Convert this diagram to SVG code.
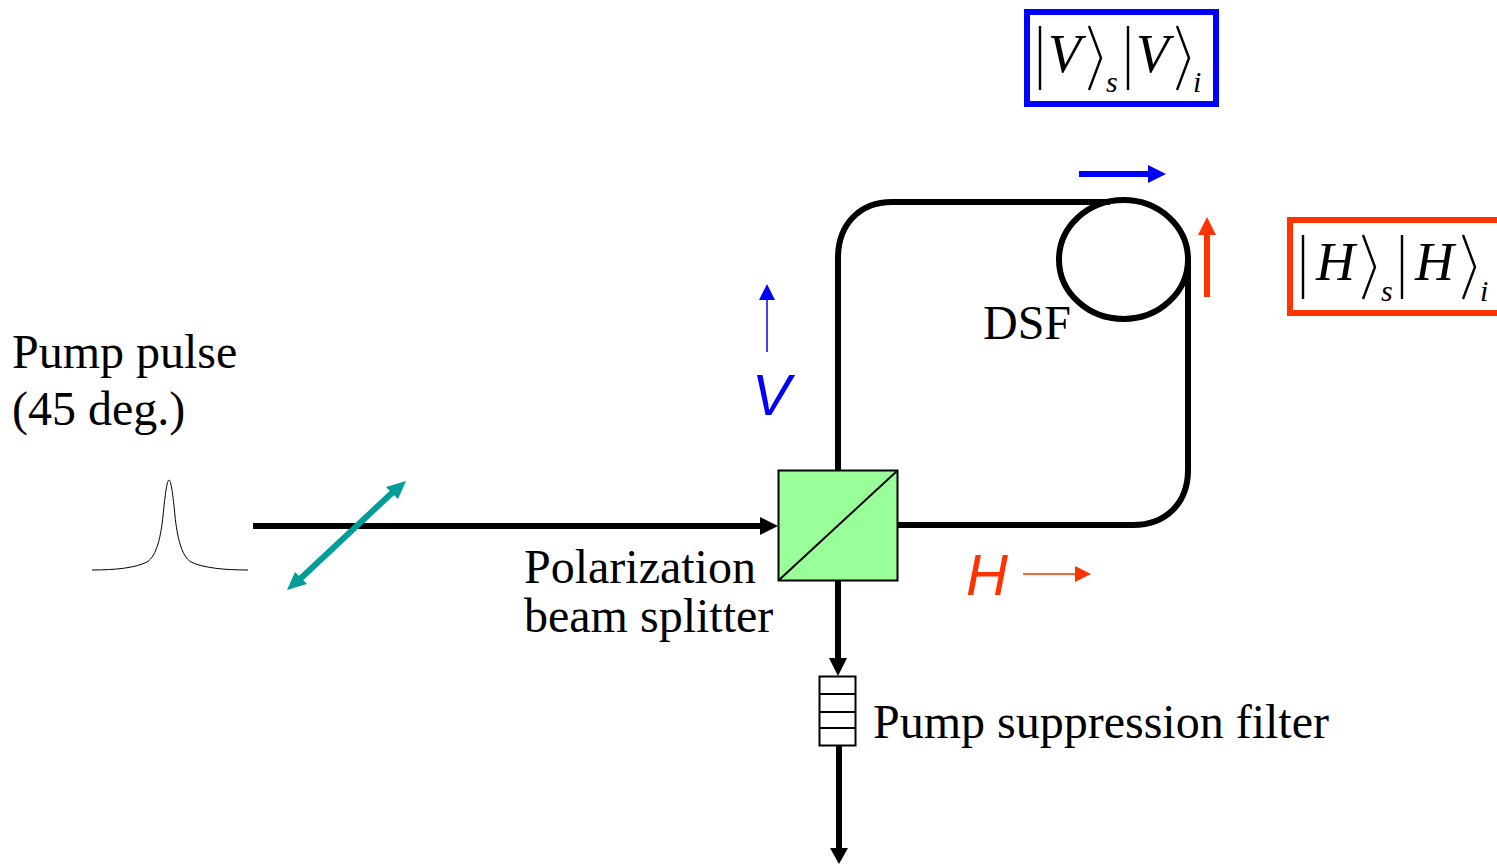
<svg xmlns="http://www.w3.org/2000/svg" width="1497" height="864" viewBox="0 0 1497 864">
<style>
.t{font-family:"Liberation Serif","Times New Roman",serif;font-size:48px;fill:#000}
.k{font-family:"Liberation Serif","Times New Roman",serif;font-style:italic;font-size:54px;fill:#000}
.sub{font-family:"Liberation Serif","Times New Roman",serif;font-style:italic;font-size:30px;fill:#000}
.pol{font-family:"Liberation Sans",Arial,sans-serif;font-style:italic;font-size:58px}
.ln{fill:none;stroke:#000;stroke-width:6}
.ket{fill:none;stroke:#000;stroke-width:2.4}
.thin{fill:none;stroke:#000;stroke-width:2}
</style>
<rect width="1497" height="864" fill="#fff"/>
<g id="connectors">
<path class="ln" d="M838 471V258C838 224 860 202 892 202H1110"/>
<ellipse class="ln" cx="1123.500" cy="259.500" rx="64.500" ry="59.500"/>
<path class="ln" d="M1188 259V470C1188 503 1166 525 1133 525H898"/>
<path class="ln" d="M253 526H762"/><path d="M760 517L778 526L760 535Z"/>
<path class="ln" d="M838 581V660"/><path d="M829 658H847L838 676Z"/>
<path class="ln" d="M839 746V849"/><path d="M830 848H848L839 864Z"/>
</g>
<g id="pulse"><path fill="none" stroke="#000" stroke-width="1" d="M92 570C115 570 135 568 147 562C157 556 161 535 163 516C165 495 167 480 169 480C171 480 173 495 175 516C177 535 181 556 191 562C203 568 225 570 248 570"/></g>
<g id="polarization-45"><path fill="none" stroke="#009e96" stroke-width="6" d="M299 580L394 491"/><path fill="#009e96" d="M406 481L398 499L386 487ZM287 590L295 572L307 584Z"/></g>
<g id="pbs"><rect x="778.500" y="470.500" width="119" height="110" fill="#99ff99" stroke="#000" stroke-width="2"/><path class="thin" d="M779 580L897 471"/></g>
<g id="filter"><rect x="819.500" y="676.500" width="36" height="69" fill="#fff" stroke="#000" stroke-width="2"/><path class="thin" d="M820 694H855M820 712H855M820 728H855"/></g>
<g id="label-pump"><text class="t" x="12" y="368">Pump pulse</text><text class="t" x="12" y="425">(45 deg.)</text></g>
<g id="label-pbs"><text class="t" x="524" y="583">Polarization</text><text class="t" x="524" y="632">beam splitter</text></g>
<g id="label-filter"><text class="t" x="873" y="738">Pump suppression filter</text></g>
<g id="label-dsf"><text class="t" x="983" y="339">DSF</text></g>
<g id="v-mark"><path fill="none" stroke="#0000ff" stroke-width="1.500" d="M767 352V298"/><path fill="#0000ff" d="M759 300L767 284L775 300Z"/><text class="pol" fill="#0000ff" x="752" y="415">V</text></g>
<g id="h-mark"><text class="pol" fill="#ff3300" x="966" y="595">H</text><path fill="none" stroke="#ff3300" stroke-width="1.500" d="M1023 574H1076"/><path fill="#ff3300" d="M1075 566L1091 574L1075 582Z"/></g>
<g id="v-arrow"><path fill="none" stroke="#0000ff" stroke-width="6" d="M1079 174H1150"/><path fill="#0000ff" d="M1148 165L1166 174L1148 183Z"/></g>
<g id="h-arrow"><path fill="none" stroke="#ff3300" stroke-width="6" d="M1207 297V234"/><path fill="#ff3300" d="M1198 235L1207 217L1216 235Z"/></g>
<g id="state-v"><rect x="1027" y="12" width="189" height="92" fill="none" stroke="#0000ff" stroke-width="6"/>
<path class="ket" d="M1040 26V90M1089 26L1101 58L1089 90M1128 26V90M1177 26L1189 58L1177 90"/>
<text class="k" x="1048" y="72">V</text><text class="k" x="1136" y="72">V</text><text class="sub" x="1106" y="92">s</text><text class="sub" x="1193" y="92">i</text></g>
<g id="state-h"><rect x="1290" y="220" width="220" height="93" fill="none" stroke="#ff3300" stroke-width="6"/>
<path class="ket" d="M1303 235V299M1363 235L1375 267L1363 299M1402 235V299M1463 235L1475 267L1463 299"/>
<text class="k" x="1316" y="280">H</text><text class="k" x="1415" y="280">H</text><text class="sub" x="1381" y="301">s</text><text class="sub" x="1480" y="301">i</text></g>
</svg>
